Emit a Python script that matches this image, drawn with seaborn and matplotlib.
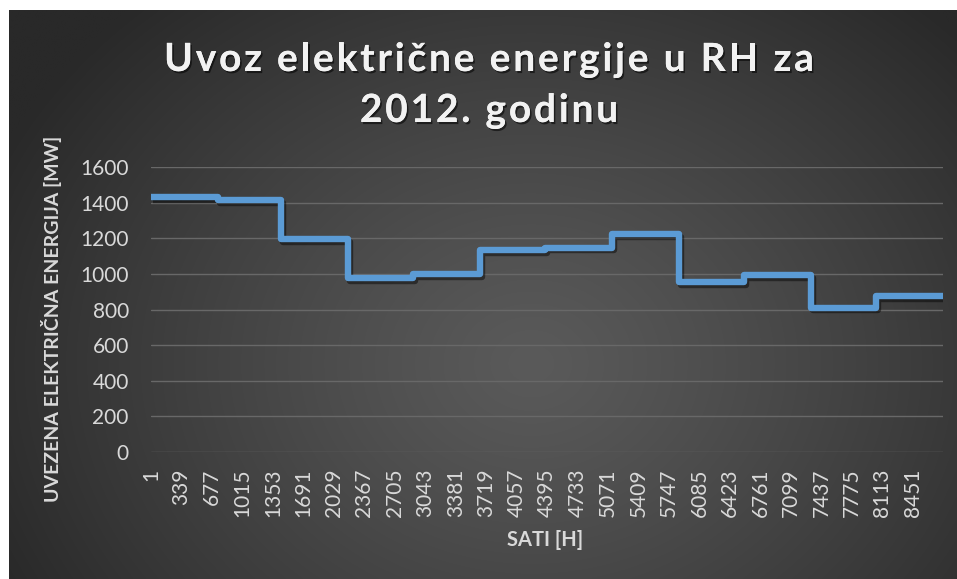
import numpy as np
import pandas as pd
import matplotlib
matplotlib.use("Agg")
import matplotlib.pyplot as plt
import matplotlib.patheffects as pe
from matplotlib.font_manager import FontProperties
import seaborn as sns

# ---- data (monthly average import, MW, stepped over hours of 2012) ----
month_start_hours = [1, 745, 1441, 2185, 2905, 3649, 4369, 5113, 5857, 6577, 7321, 8041]
last_hour = 8784
import_mw = [1430, 1415, 1195, 975, 1000, 1135, 1148, 1222, 953, 995, 810, 877]
tick_hours = list(range(1, 8452, 338))
tick_labels = [str(h) for h in tick_hours]
y_ticks = [0, 200, 400, 600, 800, 1000, 1200, 1400, 1600]

title_line1 = "Uvoz električne energije u RH za"
title_line2 = "2012. godinu"
x_label = "SATI [H]"
y_label = "UVEZENA ELEKTRIČNA ENERGIJA [MW]"

df = pd.DataFrame({"sat": month_start_hours + [last_hour],
                   "mw": import_mw + [import_mw[-1]]})

sns.set_style("dark")
plt.rcParams["font.family"] = ["Lato", "DejaVu Sans"]

W, H = 957, 579
fig = plt.figure(figsize=(W / 100, H / 100), dpi=100, facecolor="white")

# background radial gradient
bg = fig.add_axes([9 / W, 0, (W - 9) / W, (H - 10) / H], zorder=0)
ny, nx = 300, 500
yy, xx = np.mgrid[0:ny, 0:nx]
cx, cy = 0.55 * nx, 0.62 * ny
r = np.sqrt(((xx - cx) / (0.62 * nx)) ** 2 + ((yy - cy) / (0.85 * ny)) ** 2)
r = np.clip(r, 0, 1) ** 1.2
c_in, c_out = 0x5a, 0x29
v = (c_in + (c_out - c_in) * r) / 255.0
img = np.dstack([v, v, v])
bg.imshow(img, aspect="auto", extent=[0, 1, 0, 1], interpolation="bilinear")
bg.set_axis_off()

ax = fig.add_axes([151 / W, 127 / H, 792 / W, 285 / H], zorder=1)
ax.set_facecolor("none")

sns.lineplot(data=df, x="sat", y="mw", drawstyle="steps-post", color="#5B9BD5",
             linewidth=4.6, ax=ax, solid_joinstyle="round", solid_capstyle="butt")
ax.lines[0].set_path_effects([pe.SimpleLineShadow(offset=(1.2, -2.0), shadow_color="black", alpha=0.45),
                              pe.Normal()])

ax.set_xlim(0.5, last_hour + 0.5)
ax.set_ylim(0, 1600)
ax.set_yticks(y_ticks)
ax.set_xticks(tick_hours)
ax.set_xticklabels(tick_labels, rotation=90)
ax.tick_params(axis="both", length=0, colors="#D9D9D9", labelsize=15)
ax.tick_params(axis="x", pad=12)
ax.tick_params(axis="y", pad=16)
ax.yaxis.grid(True, color="#686868", linewidth=1.0)
ax.xaxis.grid(False)
ax.set_axisbelow(True)
for s in ax.spines.values():
    s.set_visible(False)

ax.set_xlabel(x_label, fontsize=14.5, fontweight="bold", color="#D9D9D9")
ax.set_ylabel(y_label, fontsize=14, fontweight="bold", color="#D9D9D9")
ax.xaxis.set_label_coords((545 - 151) / 792, (452 - 540) / 285)
ax.xaxis.label.set_va("center")
ax.yaxis.set_label_coords((52 - 151) / 792, (452 - 319) / 285)
ax.yaxis.label.set_va("center")

# letter-spaced title
renderer = fig.canvas.get_renderer()
tprop = FontProperties(family=["Lato", "DejaVu Sans"], weight="bold", size=28)


def text_w(s):
    w, _, _ = renderer.get_text_width_height_descent(s, tprop, ismath=False)
    return w


def spaced_title(s, cx_px, base_px, spacing_px):
    ref = text_w("aa")
    widths = [text_w("a" + c + "a") - ref for c in s]
    total = sum(widths) + spacing_px * (len(s) - 1)
    x = cx_px - total / 2
    shadow = [pe.withSimplePatchShadow(offset=(1.2, -1.5), shadow_rgbFace="black", alpha=0.55), pe.Normal()]
    for c, w in zip(s, widths):
        if c != " ":
            fig.text(x / W, 1 - base_px / H, c, ha="left", va="baseline", fontproperties=tprop,
                     color="#F2F2F2", path_effects=shadow)
        x += w + spacing_px


spaced_title(title_line1, 489, 71, 2.8)
spaced_title(title_line2, 489, 122, 2.8)

fig.savefig("out.png", dpi=100, facecolor="white")
